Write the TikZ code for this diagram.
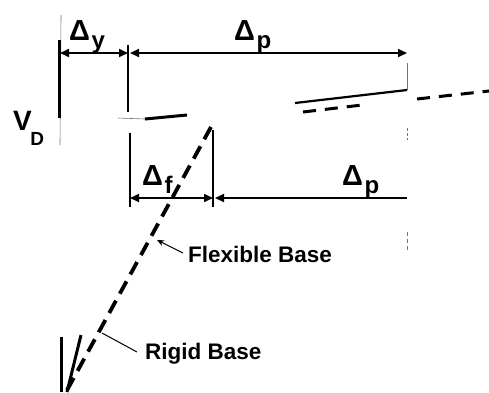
\documentclass[tikz,border=0pt]{standalone}
\usepackage{fontspec}
\setmainfont{Liberation Sans}
\usetikzlibrary{arrows.meta}
\newcommand\dlab[1]{{\fontsize{29}{29}\selectfont Δ}\kern1.5pt\raisebox{-8pt}{\fontsize{24}{24}\selectfont #1}}
\begin{document}
\begin{tikzpicture}[x=1pt,y=-1pt,
  dimline/.style={line width=1.8pt},
  lt/.style={{Triangle[length=9pt,width=8pt]}-},
  rt/.style={-{Triangle[length=9pt,width=8pt]}},
  lrt/.style={{Triangle[length=9pt,width=8pt]}-{Triangle[length=9pt,width=8pt]}},
  lbl/.style={inner sep=0pt,anchor=base west,font=\bfseries},
  hair/.style={line width=0.6pt,black!55},
  tick/.style={line width=1.6pt},
  solid3/.style={line width=3pt},
  dashA/.style={line width=3pt,dash pattern=on 13pt off 9pt},
  dashB/.style={line width=3.8pt,dash pattern=on 14pt off 8pt},
  pointer/.style={line width=1pt,-{Stealth[length=7pt,width=6pt]}}]
\useasboundingbox[fill=white] (0,0) rectangle (489,392);

% coordinates
\coordinate (vtop) at (61,15);
\coordinate (vbot) at (60,145);
\coordinate (vthA) at (59,40);
\coordinate (vthB) at (59,118);
\coordinate (d1L) at (60,53);
\coordinate (d1M) at (128,53);
\coordinate (d1N) at (130,53);
\coordinate (d1R) at (407,53);
\coordinate (t1A) at (128,45);
\coordinate (t1B) at (128,112);
\coordinate (segA) at (145,119);
\coordinate (segB) at (187,115);
\coordinate (segC) at (118,118);
\coordinate (rA) at (295,103);
\coordinate (rB) at (407,90);
\coordinate (rvA) at (407,63);
\coordinate (dsA) at (303,112);
\coordinate (dsB) at (362,105);
\coordinate (dsC) at (417,99);
\coordinate (dsD) at (489,91);
\coordinate (mk1A) at (407,128);
\coordinate (mk1B) at (407,140);
\coordinate (mk2A) at (407,232);
\coordinate (mk2B) at (407,250);
\coordinate (v2A) at (130,133);
\coordinate (v2B) at (130,207);
\coordinate (v3A) at (213,130);
\coordinate (v3B) at (213,207);
\coordinate (d2L) at (130,198);
\coordinate (d2M) at (213,198);
\coordinate (d2N) at (215,198);
\coordinate (d2R) at (407,198);
\coordinate (fbTop) at (211,127);
\coordinate (fbBot) at (66,392);
\coordinate (fpS) at (183,253);
\coordinate (fpE) at (157,240);
\coordinate (rpS) at (137,352);
\coordinate (rpE) at (102,333);
\coordinate (blA) at (61,337);
\coordinate (blB) at (61,392);
\coordinate (bsA) at (81,335);
\coordinate (bsB) at (67,392);

% left vertical
\draw[hair] (vtop) -- (vbot);
\draw[solid3] (vthA) -- (vthB);

% top dimension
\draw[dimline,lrt] (d1L) -- (d1M);
\draw[dimline,lrt] (d1N) -- (d1R);
\draw[tick] (t1A) -- (t1B);

% small segments
\draw[hair] (segC) -- (segA);
\draw[solid3] (segA) -- (segB);
\draw[line width=2.2pt] (rA) -- (rB);
\draw[hair] (rvA) -- (rB);
\draw[dashA] (dsA) -- (dsB);
\draw[dashA] (dsC) -- (dsD);
\draw[hair,dash pattern=on 3pt off 2pt] (mk1A) -- (mk1B);
\draw[hair,dash pattern=on 4pt off 3pt] (mk2A) -- (mk2B);

% lower dimension
\draw[tick] (v2A) -- (v2B);
\draw[tick] (v3A) -- (v3B);
\draw[dimline,lrt] (d2L) -- (d2M);
\draw[dimline,lt] (d2N) -- (d2R);

% flexible base line
\draw[dashB] (fbTop) -- (fbBot);
\draw[pointer] (fpS) -- (fpE);
\draw[line width=1pt] (rpS) -- (rpE);

% rigid base lines
\draw[solid3] (blA) -- (blB);
\draw[solid3] (bsA) -- (bsB);

% labels
\node[lbl] (ly) at (69,40) {\dlab{y}};
\node[lbl] (lp1) at (234,40) {\dlab{p}};
\node[lbl] (lf) at (142,185) {\dlab{f}};
\node[lbl] (lp2) at (342,185) {\dlab{p}};
\node[lbl] (lvd) at (13,130) {{\fontsize{28}{28}\selectfont V}\kern-1.5pt\raisebox{-15pt}{\fontsize{19}{19}\selectfont D}};
\node[lbl,font=\bfseries\fontsize{22.5}{22.5}\selectfont] (lfb) at (188,262) {Flexible Base};
\node[lbl,font=\bfseries\fontsize{22.5}{22.5}\selectfont] (lrb) at (145,359) {Rigid Base};
\end{tikzpicture}
\end{document}
